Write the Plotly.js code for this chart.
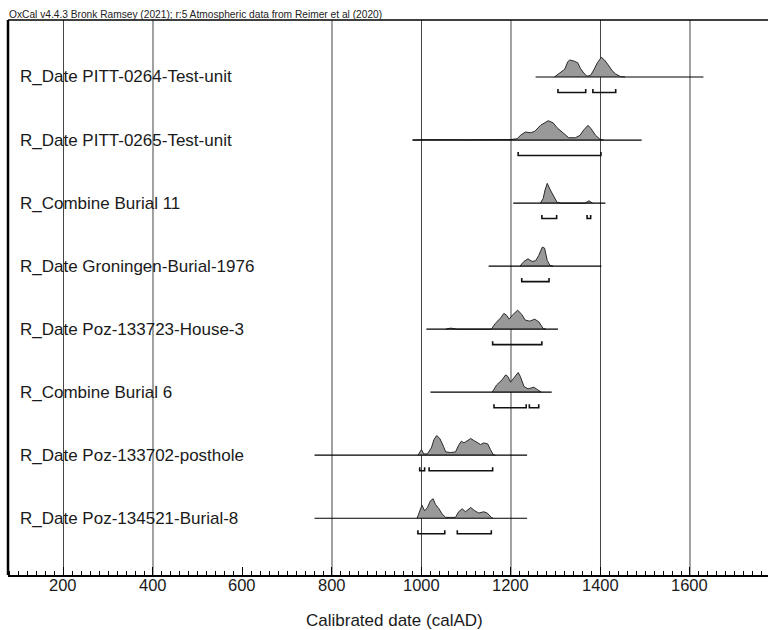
<!DOCTYPE html>
<html><head><meta charset="utf-8">
<script src="https://cdn.plot.ly/plotly-3.0.1.min.js"></script>
<style>html,body{margin:0;padding:0;background:#fff;overflow:hidden}#wrap{width:768px;height:630px;overflow:hidden}#chart{width:790px;height:630px}</style>
</head><body><div id="wrap"><div id="chart"></div></div>
<script>
// ---- data ----
const labels = [
  "R_Date PITT-0264-Test-unit",
  "R_Date PITT-0265-Test-unit",
  "R_Combine Burial 11",
  "R_Date Groningen-Burial-1976",
  "R_Date Poz-133723-House-3",
  "R_Combine Burial 6",
  "R_Date Poz-133702-posthole",
  "R_Date Poz-134521-Burial-8"
];
// extent of each horizontal line (calAD)
const lineStart = [1255, 980, 1205, 1150, 1011, 1020, 761, 761];
const lineEnd   = [1630, 1492, 1411, 1402, 1305, 1291, 1236, 1236];

// probability distributions (calAD, relative probability)
const yearsA = [1297,1305,1314,1320,1327,1331,1342,1349,1355,1363,1370,1378,1385,1393,1402,1409,1419,1426,1434,1445,1455];
const probA  = [0,3,6.3,7.7,15.3,17,15.7,14.3,8.7,3.7,0.7,1.7,7,14.3,19.7,17,11,6.3,3,0.3,0];
const yearsB = [980,1000,1100,1200,1214,1221,1232,1244,1253,1266,1283,1294,1303,1314,1329,1344,1354,1363,1372,1379,1389,1399,1407];
const probB  = [0,0.4,0.3,0.5,1.3,4.7,8,7.3,8.7,14.7,19.3,17.3,12.3,8,2.3,2.3,4.7,10.3,14.7,11.3,4.7,0.7,0];
const yearsC = [1266,1272,1276,1281,1288,1296,1303,1310,1366,1374,1382];
const probC  = [0,4.7,13,19.7,13,6.3,0.7,0,0,2.3,0];
const yearsD = [1220,1229,1238,1247,1255,1262,1270,1275,1281,1287,1294];
const probD  = [0,4.7,7.3,4.7,5.3,10.7,19,18,5.7,0.7,0];
const yearsE = [1054,1065,1080,1156,1165,1177,1184,1190,1196,1203,1215,1224,1232,1242,1253,1262,1272,1278];
const probE  = [0,1,0,0,5.7,11.3,15.7,14,10,14,19,14.7,9,8,10,7.3,0.7,0];
const yearsF = [1158,1168,1180,1188,1193,1199,1206,1216,1221,1229,1238,1251,1260,1268];
const probF  = [0,7.3,12.3,17.3,15.7,10,14,19.7,15.7,5.7,3.3,5,2.3,0];
const yearsG = [992,1000,1005,1013,1022,1028,1034,1041,1049,1054,1065,1076,1083,1089,1095,1102,1110,1117,1125,1132,1139,1148,1154,1160,1165];
const probG  = [0,5.7,1.3,1.3,7.3,15.7,19.7,16.7,9,3.3,2.7,3.3,10,14,12.3,14.7,16.7,14.7,12.3,10.7,12.3,11.3,5.7,0.7,0];
const yearsH = [990,996,1001,1007,1013,1020,1026,1031,1039,1046,1054,1065,1076,1083,1091,1098,1110,1118,1128,1139,1147,1156,1160];
const probH  = [0,8,13,7.5,10.5,17.5,19.5,14,9.5,4.3,0.9,0.9,0.9,6.5,9.5,6.5,10.8,7.8,5.2,6.5,5.2,0.9,0];
const distYears = [yearsA, yearsB, yearsC, yearsD, yearsE, yearsF, yearsG, yearsH];
const distProb  = [probA, probB, probC, probD, probE, probF, probG, probH];

// 95.4% ranges (calAD) per row
const rangeFrom = [[1305,1383],[1216],[1269,1370],[1224],[1159],[1162,1241],[996,1017],[992,1080]];
const rangeTo   = [[1367,1434],[1401],[1302,1378],[1285],[1269],[1234,1262],[1007,1159],[1052,1156]];

const gridYears = [200, 400, 800, 1000, 1200, 1400, 1600];
const tickYears = [200, 400, 600, 800, 1000, 1200, 1400, 1600];
const header = "OxCal v4.4.3 Bronk Ramsey (2021); r:5 Atmospheric data from Reimer et al (2020)";
const xTitle = "Calibrated date (calAD)";

// ---- drawing ----
const W = 790, PLOT_W = W - 8;
const pxPerYear = 0.4475;
const xMin = 76, xMax = xMin + PLOT_W / pxPerYear;
const pxPerUnit = 63.04;           // vertical pixels per row
const probScale = 1 / pxPerUnit;   // relative probability -> row units
const bracketDrop = 15.5 / pxPerUnit;
const bracketTick = 3.5 / pxPerUnit;
const FONT = "Liberation Sans, Arial, Helvetica, sans-serif";

const traces = [];
const annotations = [];
labels.forEach((lab, i) => {
  const base = labels.length - i;
  const ys = distYears[i], ps = distProb[i];
  const px = [ys[0]].concat(ys, [ys[ys.length - 1]]);
  const py = [base].concat(ps.map(p => base + p * probScale), [base]);
  traces.push({x: px, y: py, mode: 'lines', fill: 'toself', fillcolor: '#999999',
    line: {color: '#2a2a2a', width: 1}, hoverinfo: 'skip', showlegend: false});
  traces.push({x: [lineStart[i], lineEnd[i]], y: [base, base], mode: 'lines',
    line: {color: '#000', width: 1.2}, hoverinfo: 'skip', showlegend: false});
  const yb = base - bracketDrop;
  rangeFrom[i].forEach((a, k) => {
    const b = rangeTo[i][k];
    traces.push({x: [a, a, b, b], y: [yb + bracketTick, yb, yb, yb + bracketTick],
      mode: 'lines', line: {color: '#111', width: 1.6}, hoverinfo: 'skip', showlegend: false});
  });
  annotations.push({text: lab, xref: 'paper', x: 0, xshift: 10, xanchor: 'left',
    yref: 'y', y: base, yanchor: 'middle', showarrow: false,
    font: {family: FONT, size: 17, color: '#1a1a1a'}});
});

tickYears.forEach(t => annotations.push({text: String(t), xref: 'x', x: t, xanchor: 'center',
  yref: 'paper', y: 0, yanchor: 'middle', yshift: -10, showarrow: false,
  font: {family: FONT, size: 16.5, color: '#1a1a1a'}}));
annotations.push({text: header, xref: 'paper', x: 0, xanchor: 'left', xshift: -1,
  yref: 'paper', y: 1, yanchor: 'bottom', yshift: -2, showarrow: false,
  font: {family: FONT, size: 10.2, color: '#222'}});
annotations.push({text: xTitle, xref: 'x', x: 1000 + (394 - 421) / pxPerYear, xanchor: 'center',
  yref: 'paper', y: 0, yanchor: 'middle', yshift: -45, showarrow: false,
  font: {family: FONT, size: 17, color: '#1a1a1a'}});

const shapes = gridYears.map(g => ({type: 'line', xref: 'x', yref: 'paper', x0: g, x1: g,
  y0: 0, y1: 1, line: {color: '#444', width: 1}, layer: 'below'}));
// white mask over the right edge of the frame (the reference frame runs off the page there)
shapes.push({type: 'rect', xref: 'paper', yref: 'paper', x0: (762 - 8) / PLOT_W, x1: 1.02,
  y0: 0.012, y1: 0.996, fillcolor: '#fff', line: {width: 0}, layer: 'above'});
// top border and left border of the frame
shapes.push({type: 'line', xref: 'paper', yref: 'paper', x0: 0, x1: 1, y0: 1, y1: 1,
  line: {color: '#000', width: 1.3}});
shapes.push({type: 'line', xref: 'paper', yref: 'paper', x0: 0, x1: 0, y0: 0, y1: 1,
  line: {color: '#000', width: 2.5}});

const layout = {
  width: W, height: 630,
  margin: {l: 8, r: 0, t: 20, b: 55},
  paper_bgcolor: '#fff', plot_bgcolor: '#fff',
  showlegend: false,
  xaxis: {range: [xMin, xMax], tick0: 0, dtick: 200, ticks: 'inside', ticklen: 8,
    tickwidth: 1, tickcolor: '#000', showgrid: false, zeroline: false, showticklabels: false,
    showline: true, linecolor: '#000', linewidth: 1.5,
    minor: {dtick: 20, ticks: 'inside', ticklen: 4, tickwidth: 1, tickcolor: '#000', showgrid: false},
    fixedrange: true},
  yaxis: {range: [0.1, 8.904], showticklabels: false, showgrid: false, zeroline: false,
    showline: false, ticks: '', fixedrange: true},
  shapes: shapes,
  annotations: annotations
};

Plotly.newPlot('chart', traces, layout, {displayModeBar: false, staticPlot: true});
</script>
</body></html>
